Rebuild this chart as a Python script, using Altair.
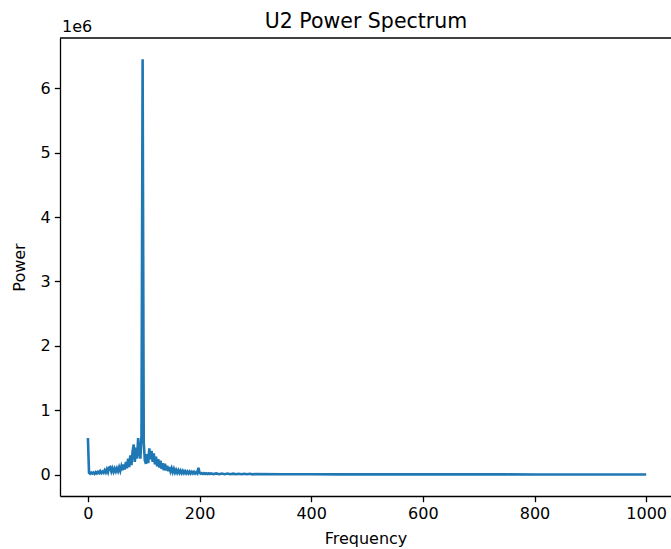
import altair as alt
import pandas as pd

# Frequency grid (Hz) and power (in units of 1e6)
freq_a = [0, 2, 4, 6, 8, 10, 12, 14, 16, 18, 20, 22, 24, 26, 28, 30, 32, 34, 36, 38,
          40, 42, 44, 46, 48, 50, 52, 54, 56, 58, 60, 62, 64, 66, 68, 70, 72, 74, 76, 78,
          80, 82, 84, 86, 88, 90, 92, 94, 96, 98, 100, 102, 104, 106, 108, 110, 112, 114,
          116, 118, 120, 122, 124, 126, 128, 130, 132, 134, 136, 138, 140, 142, 144, 146,
          148, 150, 152, 154, 156, 158, 160, 162, 164, 166, 168, 170, 172, 174, 176, 178,
          180, 182, 184, 186, 188, 190, 192, 194, 196, 198, 200, 202, 204, 206, 208, 210,
          212, 214, 216, 218, 220]
power_a = [0.57, 0.03, 0.015, 0.035, 0.02, 0.035, 0.015, 0.04, 0.02, 0.045, 0.025, 0.055, 0.025,
           0.05, 0.03, 0.07, 0.035, 0.085, 0.04, 0.11, 0.12, 0.05, 0.1, 0.045, 0.095, 0.05,
           0.1, 0.055, 0.115, 0.06, 0.13, 0.07, 0.16, 0.08, 0.2, 0.1, 0.25, 0.12, 0.3, 0.15,
           0.36, 0.47, 0.2, 0.42, 0.25, 0.57, 0.35, 0.25, 0.62, 6.45, 0.5, 0.22, 0.17, 0.32, 0.18,
           0.41, 0.24, 0.37, 0.2, 0.33, 0.16, 0.28, 0.13, 0.24, 0.11, 0.22, 0.09, 0.18, 0.07,
           0.17, 0.065, 0.14, 0.055, 0.12, 0.05, 0.1, 0.04, 0.09, 0.035, 0.075, 0.03, 0.07,
           0.03, 0.065, 0.025, 0.06, 0.025, 0.055, 0.022, 0.05, 0.02, 0.05, 0.02, 0.045, 0.02,
           0.045, 0.018, 0.04, 0.02, 0.11, 0.03, 0.015, 0.025, 0.012, 0.024, 0.012, 0.022, 0.011,
           0.021, 0.01, 0.02]
freq_b = [225, 230, 235, 240, 245, 250, 255, 260, 265, 270, 275, 280, 285, 290, 295, 300]
power_b = [0.01, 0.02, 0.009, 0.019, 0.009, 0.018, 0.008, 0.017, 0.008, 0.016, 0.007, 0.015,
           0.007, 0.014, 0.006, 0.012]
freq_c = [350, 400, 450, 500, 550, 600, 650, 700, 750, 800, 850, 900, 950, 1000]
power_c = [0.007, 0.007, 0.006, 0.006, 0.006, 0.005, 0.005, 0.005, 0.005, 0.004, 0.004,
           0.004, 0.004, 0.004]

x_ticks = [0, 200, 400, 600, 800, 1000]
y_ticks = [0, 1, 2, 3, 4, 5, 6]

title_text = "U2 Power Spectrum"
offset_label = "1e6"

df = pd.DataFrame({
    "Frequency": freq_a + freq_b + freq_c,
    "Power": power_a + power_b + power_c,
})
one = pd.DataFrame({"k": [0]})

W, H = 611, 458
FONT = "DejaVu Sans"

x_scale = alt.Scale(domain=[-50, 1044.5], nice=False, zero=False)
y_scale = alt.Scale(domain=[-0.33, 6.78], nice=False, zero=False)

line = alt.Chart(df).mark_line(color="#1f77b4", strokeWidth=2.6, clip=True).encode(
    x=alt.X("Frequency:Q", scale=x_scale,
            axis=alt.Axis(values=x_ticks, format="d", title="Frequency")),
    y=alt.Y("Power:Q", scale=y_scale,
            axis=alt.Axis(values=y_ticks, format="d", title="Power")),
)

top_spine = alt.Chart(one).mark_rule(color="black", strokeWidth=1.3).encode(
    x=alt.value(0), x2=alt.value(W), y=alt.value(0)
)

offset_text = alt.Chart(one).mark_text(
    text=offset_label, align="left", baseline="alphabetic", font=FONT, fontSize=16,
    color="black"
).encode(x=alt.value(2), y=alt.value(-6))

title_mark = alt.Chart(one).mark_text(
    text=title_text, align="center", baseline="alphabetic", font=FONT, fontSize=20.5,
    color="black"
).encode(x=alt.value(306), y=alt.value(-10))

chart = alt.layer(line, top_spine, offset_text, title_mark).properties(
    width=W,
    height=H,
    padding={"left": 60, "top": 38, "right": 0, "bottom": 53},
    autosize=alt.AutoSizeParams(type="none"),
).configure_view(stroke=None).configure_axis(
    grid=False,
    domainColor="black",
    domainWidth=1.3,
    tickColor="black",
    tickWidth=1.3,
    tickSize=5.7,
    labelFont=FONT,
    labelFontSize=16,
    labelColor="black",
    labelPadding=4,
    titleFont=FONT,
    titleFontSize=16,
    titleFontWeight="normal",
    titleColor="black",
).configure_axisX(titlePadding=9).configure_axisY(titlePadding=13)

chart.save("out.html", embed_options={"renderer": "svg", "actions": False})
